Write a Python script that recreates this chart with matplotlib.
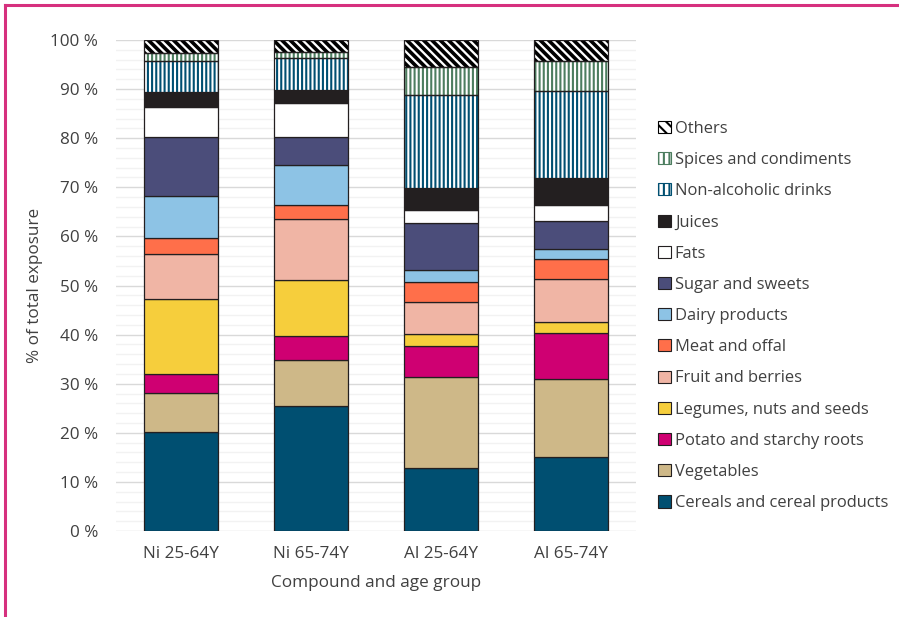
import numpy as np
import matplotlib
matplotlib.use('Agg')
import matplotlib.pyplot as plt
from matplotlib.patches import Patch
from matplotlib.lines import Line2D

plt.rcParams['font.family'] = ['Open Sans', 'DejaVu Sans']
plt.rcParams['hatch.linewidth'] = 1.5

groups = ['Ni 25-64Y', 'Ni 65-74Y', 'Al 25-64Y', 'Al 65-74Y']

categories = ['Cereals and cereal products', 'Vegetables', 'Potato and starchy roots',
              'Legumes, nuts and seeds', 'Fruit and berries', 'Meat and offal',
              'Dairy products', 'Sugar and sweets', 'Fats', 'Juices',
              'Non-alcoholic drinks', 'Spices and condiments', 'Others']

# cumulative tops (%), bottom category first
tops = {
    'Ni 25-64Y': [20.2, 28.2, 31.9, 47.2, 56.5, 59.6, 68.2, 80.2, 86.3, 89.5, 95.8, 97.3, 100],
    'Ni 65-74Y': [25.5, 34.8, 39.7, 51.1, 63.5, 66.4, 74.5, 80.2, 87.2, 89.8, 96.3, 97.6, 100],
    'Al 25-64Y': [12.8, 31.3, 37.7, 40.1, 46.6, 50.7, 53.2, 62.7, 65.3, 69.9, 88.8, 94.4, 100],
    'Al 65-74Y': [15.1, 31.0, 40.4, 42.5, 51.3, 55.4, 57.4, 63.1, 66.4, 71.8, 89.6, 95.7, 100],
}

colors = ['#004F71', '#CEB888', '#CF0072', '#F6CE3C', '#F0B5A5', '#FF6F4A',
          '#8DC3E5', '#4B4D7A', '#FFFFFF', '#231F20', '#004F71', '#4C7D5F', '#000000']
hatches = [None] * 10 + ['||||', '||||', '\\\\\\\\']
hatch_lw = [None] * 10 + [1.5, 1.5, 2.6]

edge = '#231F20'
text_col = '#404040'
fs = 12.3

fig = plt.figure(figsize=(8.99, 6.17), dpi=100)
ax = fig.add_axes([116 / 899, 1 - 531 / 617, 520 / 899, 491 / 617])

x = np.arange(len(groups))
width = 0.57
for i, g in enumerate(groups):
    t = np.array(tops[g])
    b = np.concatenate([[0], t[:-1]])
    h = t - b
    for k in range(len(categories)):
        if hatches[k]:
            with plt.rc_context({'hatch.linewidth': hatch_lw[k]}):
                ax.bar(x[i], h[k], width, bottom=b[k], color='white', edgecolor=colors[k],
                       hatch=hatches[k], linewidth=0, zorder=3)
            ax.bar(x[i], h[k], width, bottom=b[k], fill=False, edgecolor=edge,
                   linewidth=0.9, zorder=4)
        else:
            ax.bar(x[i], h[k], width, bottom=b[k], color=colors[k], edgecolor=edge,
                   linewidth=0.9, zorder=3)

ax.set_xlim(-0.5, 3.5)
ax.set_ylim(0, 100)
ax.set_yticks(np.arange(0, 101, 10))
ax.set_yticklabels([f'{v} %' for v in range(0, 101, 10)])
ax.set_yticks(np.arange(0, 101, 2), minor=True)
ax.grid(axis='y', which='major', color='#D9D9D9', linewidth=1.0, zorder=0)
ax.grid(axis='y', which='minor', color='#F2F2F2', linewidth=1.0, zorder=0)
ax.set_xticks(x)
ax.set_xticklabels(groups)
ax.tick_params(axis='both', which='both', length=0, labelsize=fs, colors=text_col)
ax.tick_params(axis='y', pad=13)
ax.tick_params(axis='x', pad=11)
for s in ax.spines.values():
    s.set_visible(False)
ax.set_ylabel('% of total exposure', fontsize=fs, color=text_col, labelpad=5)
ax.set_xlabel('Compound and age group', fontsize=fs, color=text_col, labelpad=9)

handles = []
for k in range(len(categories)):
    if hatches[k]:
        with plt.rc_context({'hatch.linewidth': 1.0}):
            handles.append(Patch(facecolor='white', edgecolor=colors[k], hatch='|||',
                                 linewidth=0.8) if k < 12 else
                           Patch(facecolor='white', edgecolor='black', hatch='\\\\\\',
                                 linewidth=0.8))
    else:
        handles.append(Patch(facecolor=colors[k], edgecolor=edge, linewidth=0.8))
leg = fig.legend(handles[::-1], categories[::-1], loc='center left',
                 bbox_to_anchor=(650 / 899, 1 - 316 / 617), frameon=False,
                 fontsize=11.9, handlelength=0.75, handleheight=0.75,
                 handletextpad=0.25, labelspacing=0.92, borderpad=0)
for t in leg.get_texts():
    t.set_color(text_col)

# magenta frame (top and left edges)
border = '#D6307E'
fig.add_artist(Line2D([5 / 899, 1], [1 - 5 / 617, 1 - 5 / 617], color=border,
                      linewidth=2.2, transform=fig.transFigure))
fig.add_artist(Line2D([5 / 899, 5 / 899], [0, 1 - 5 / 617], color=border,
                      linewidth=2.2, transform=fig.transFigure))

fig.savefig('out.png', dpi=100)
